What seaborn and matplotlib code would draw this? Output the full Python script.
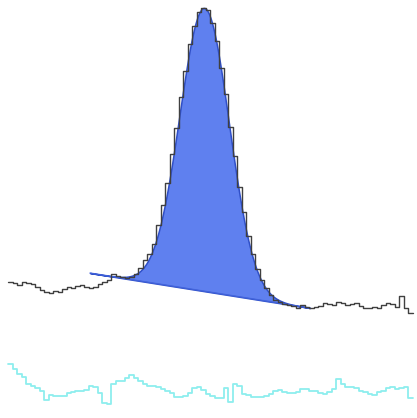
import numpy as np
import pandas as pd
import matplotlib
matplotlib.use("Agg")
import matplotlib.pyplot as plt
import seaborn as sns

# Spectrum counts per channel
counts = [38, 37, 35, 38, 37, 36, 33, 30, 28, 27,
          29, 28, 31, 33, 32, 34, 35, 33, 32, 33,
          36, 38, 40, 46, 44, 43, 42, 43, 46, 52,
          60, 66, 76, 95, 115, 137, 166, 192, 223, 249,
          276, 294, 308, 312, 310, 297, 279, 252, 226, 193,
          164, 133, 108, 84, 66, 51, 40, 32, 25, 20,
          18, 16, 15, 14, 12, 15, 13, 12, 13, 14,
          17, 16, 15, 18, 17, 15, 16, 17, 14, 12,
          12, 13, 12, 15, 17, 16, 13, 24, 12, 7]

# Fit residuals per channel
residuals = [26, 21, 16, 13, 6, 4, 2, -1, -10, -5,
             -6, -6, -6, -3, -2, -1, -1, 0, 4, 3,
             -3, -13, -14, 6, 9, 9, 12, 15, 12, 9,
             6, 4, 4, 3, 1, -1, -3, -7, -7, -6,
             -3, 2, 3, 0, -4, -6, -8, -8, 2, -12,
             6, 4, -4, -5, -7, -7, -7, -6, -4, -1,
             0, -2, -3, -3, -2, 1, 1, -1, -1, -3,
             -4, -2, 1, 11, 6, 3, 3, 2, -1, -2,
             -4, -5, -2, -1, 2, 3, 1, 2, 3, -8]

# Fitted peak (Gaussian on a linear background)
peak_center = 43.1
peak_sigma = 5.5
peak_height = 283.2
bg_x = [17.72, 66.61]
bg_y = [47.0, 12.0]

resid_offset = -70

channels = np.arange(len(counts))


def padded(vals):
    x = np.concatenate([[channels[0] - 0.5], channels, [channels[-1] + 0.5]])
    y = np.concatenate([[vals[0]], vals, [vals[-1]]])
    return pd.DataFrame({"channel": x, "value": y})


sns.set_style("white")
fig = plt.figure(figsize=(4.17, 4.18), dpi=100)
ax = fig.add_axes([0, 0, 1, 1])

# background line and fitted peak area
xf = np.linspace(bg_x[0], bg_x[1], 800)
bg = np.interp(xf, bg_x, bg_y)
peak = bg + peak_height * np.exp(-0.5 * ((xf - peak_center) / peak_sigma) ** 2)
ax.fill_between(xf, bg, peak, color="#5f80ef", edgecolor="#2f4fc8",
                linewidth=1.1, zorder=2)
sns.lineplot(x=bg_x, y=bg_y, ax=ax, color="#4466dd", linewidth=1.0,
             alpha=0.8, zorder=3)

d = padded(np.array(counts, float))
sns.lineplot(data=d, x="channel", y="value", ax=ax, color="#404040",
             linewidth=1.0, drawstyle="steps-mid", zorder=4)

r = padded(np.array(residuals, float) + resid_offset)
sns.lineplot(data=r, x="channel", y="value", ax=ax, color="#8eeeee",
             linewidth=1.3, drawstyle="steps-mid", zorder=4)

ax.set_xlim(-2.278, 90.39)
ax.set_ylim(-98, 320)
ax.set_axis_off()

fig.savefig("out.png", dpi=100)
